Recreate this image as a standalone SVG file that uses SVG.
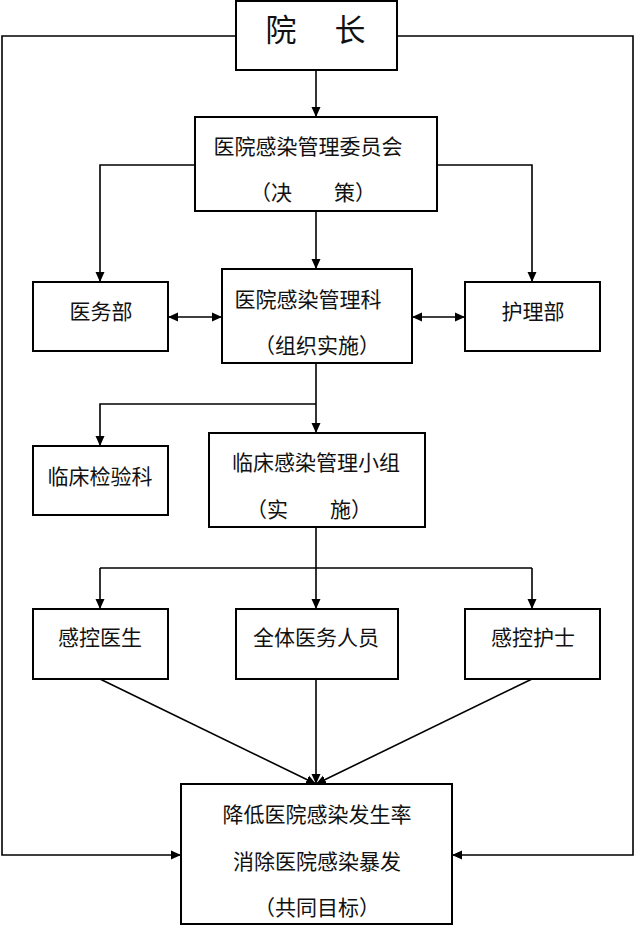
<svg xmlns="http://www.w3.org/2000/svg" width="635" height="926" viewBox="0 0 635 926">
<style>
.box{fill:#fff;stroke:#000;stroke-width:2}
.t{font-family:"Liberation Serif","Noto Sans CJK SC",serif;font-size:21px;fill:#111;text-anchor:middle;dominant-baseline:central}
.big{font-size:31px}
.c{fill:none;stroke:#000;stroke-width:1.6}
</style>
<defs>
<marker id="ah" viewBox="0 0 10 10" refX="10" refY="5" markerWidth="10" markerHeight="10" markerUnits="userSpaceOnUse" orient="auto-start-reverse">
<path d="M0,0.5 L10,5 L0,9.5 Z" fill="#000"/>
</marker>
</defs>
<rect width="635" height="926" fill="#fff"/>
<g id="connectors">
<path class="c" d="M236,36 H2 V855 H181" marker-end="url(#ah)"/>
<path class="c" d="M397,36 H633 V855 H452" marker-end="url(#ah)"/>
<path class="c" d="M316,70 V117" marker-end="url(#ah)"/>
<path class="c" d="M195,165 H100 V282" marker-end="url(#ah)"/>
<path class="c" d="M437,165 H532 V282" marker-end="url(#ah)"/>
<path class="c" d="M316,211 V269" marker-end="url(#ah)"/>
<path class="c" d="M168,317 H222" marker-start="url(#ah)" marker-end="url(#ah)"/>
<path class="c" d="M412,317 H465" marker-start="url(#ah)" marker-end="url(#ah)"/>
<path class="c" d="M316,363 V433" marker-end="url(#ah)"/>
<path class="c" d="M316,404 H100 V446" marker-end="url(#ah)"/>
<path class="c" d="M316,527 V568"/>
<path class="c" d="M100,568 H532"/>
<path class="c" d="M100,568 V609" marker-end="url(#ah)"/>
<path class="c" d="M316,568 V609" marker-end="url(#ah)"/>
<path class="c" d="M532,568 V609" marker-end="url(#ah)"/>
<path class="c" d="M100,679 L316,784" marker-end="url(#ah)"/>
<path class="c" d="M316,679 V784" marker-end="url(#ah)"/>
<path class="c" d="M532,679 L316,784" marker-end="url(#ah)"/>
</g>
<g id="dean">
<rect class="box" x="236" y="1" width="161" height="69"/>
<text class="t big" x="281" y="30">院</text>
<text class="t big" x="350" y="30">长</text>
</g>
<g id="committee">
<rect class="box" x="195" y="117" width="242" height="94"/>
<text class="t" x="308" y="147">医院感染管理委员会</text>
<text class="t" x="313" y="193">（决　　策）</text>
</g>
<g id="medical-dept">
<rect class="box" x="33" y="282" width="135" height="69"/>
<text class="t" x="101" y="312">医务部</text>
</g>
<g id="infection-dept">
<rect class="box" x="222" y="269" width="190" height="94"/>
<text class="t" x="308" y="300">医院感染管理科</text>
<text class="t" x="317" y="346">（组织实施）</text>
</g>
<g id="nursing-dept">
<rect class="box" x="465" y="282" width="135" height="69"/>
<text class="t" x="533" y="312">护理部</text>
</g>
<g id="lab-dept">
<rect class="box" x="33" y="446" width="135" height="69"/>
<text class="t" x="100" y="477">临床检验科</text>
</g>
<g id="clinical-group">
<rect class="box" x="209" y="433" width="216" height="94"/>
<text class="t" x="316" y="463">临床感染管理小组</text>
<text class="t" x="309" y="510">（实　　施）</text>
</g>
<g id="ic-doctor">
<rect class="box" x="33" y="609" width="135" height="70"/>
<text class="t" x="100" y="638">感控医生</text>
</g>
<g id="all-staff">
<rect class="box" x="236" y="609" width="162" height="70"/>
<text class="t" x="316" y="638">全体医务人员</text>
</g>
<g id="ic-nurse">
<rect class="box" x="465" y="609" width="135" height="70"/>
<text class="t" x="533" y="638">感控护士</text>
</g>
<g id="goal">
<rect class="box" x="181" y="784" width="271" height="140"/>
<text class="t" x="317" y="815">降低医院感染发生率</text>
<text class="t" x="317" y="862">消除医院感染暴发</text>
<text class="t" x="317" y="908">（共同目标）</text>
</g>
</svg>
